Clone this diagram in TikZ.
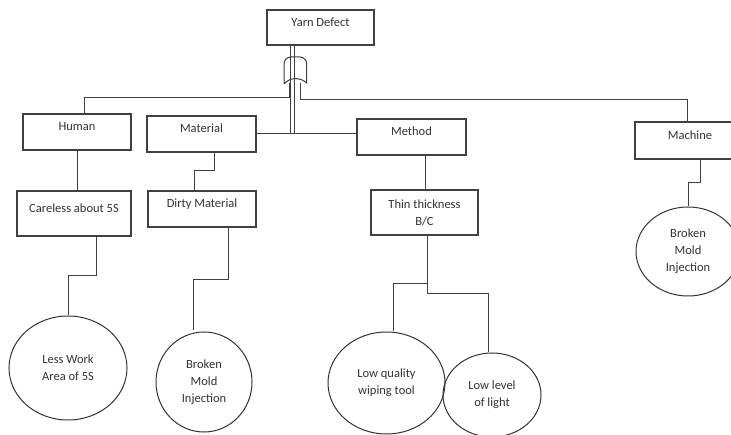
\documentclass[tikz,border=0pt]{standalone}
\usepackage{fontspec}
\setmainfont{Carlito}
\usetikzlibrary{shapes.geometric}
\tikzset{
  box/.style={draw=black!75,line width=1.1pt,rectangle,inner sep=0pt,
    text height=9pt,text depth=11pt,text=black!80},
  tallbox/.style={draw=black!75,line width=1.1pt,rectangle,inner sep=0pt,
    align=center,text=black!80},
  causeell/.style={draw=black!80,line width=1pt,ellipse,inner sep=0pt,
    align=center,text=black!80},
  wire/.style={draw=black!75,line width=1pt}
}
\begin{document}
\begin{tikzpicture}[x=1pt,y=-1pt,font=\fontsize{12.5}{17}\selectfont]
  \useasboundingbox[fill=white] (0,0) rectangle (731,435);
  % boxes
  \node[box,minimum width=107pt,minimum height=35pt] (yarn) at (320.5,27.5) {Yarn Defect};
  \node[box,minimum width=108pt,minimum height=36pt] (human) at (77,132) {Human};
  \node[box,minimum width=109pt,minimum height=36pt] (material) at (201.5,134) {Material};
  \node[box,minimum width=109pt,minimum height=36pt] (method) at (411.5,137) {Method};
  \node[box,minimum width=110pt,minimum height=37pt] (machine) at (690,140.5) {Machine};
  \node[box,minimum width=114pt,minimum height=45pt] (careless) at (74,213.5) {Careless about 5S};
  \node[box,minimum width=108pt,minimum height=36pt] (dirty) at (202,209) {Dirty Material};
  \node[tallbox,minimum width=107pt,minimum height=45pt] (thin) at (424.5,212.5) {Thin thickness\\B/C};
  % ellipses
  \node[causeell,minimum width=118pt,minimum height=104pt] (less) at (68,368) {Less Work\\Area of 5S};
  \node[causeell,minimum width=96pt,minimum height=100pt] (broken) at (204,382) {Broken\\Mold\\Injection};
  \node[causeell,minimum width=117pt,minimum height=102pt] (lowq) at (386.5,383) {Low quality\\wiping tool};
  \node[causeell,minimum width=98pt,minimum height=84pt] (lowl) at (492,395) {Low level\\of light};
  \node[causeell,minimum width=104pt,minimum height=89pt] (mould) at (688,251.5) {Broken\\Mold\\Injection};
  % crossover
  \coordinate (jl) at (289,83);
  \coordinate (jr) at (300,83);
  \draw[wire] (284,84) -- (284,64) to[out=90,in=180] (291,57) -- (300,57)
    to[out=0,in=90] (306.7,64) -- (306.7,83) .. controls (300,77) and (290,77) .. (284,84);
  \draw[wire] ([xshift=-30pt]yarn.south) -- ([xshift=-30pt]yarn.south |- material.east);
  \draw[wire] ([xshift=-26.2pt]yarn.south) -- ([xshift=-26.2pt]yarn.south |- material.east);
  \draw[wire] (material.east) -- (method.west |- material.east);
  \draw[wire] (jl) -- ++(0,15) -| ([xshift=7pt]human.north);
  \draw[wire] (jr) -- ++(0,17) -| ([xshift=-3pt]machine.north);
  % branches
  \draw[wire] (human.south) -- (human.south |- careless.north);
  \draw[wire] ([xshift=22pt]careless.south) -- ++(0,39) -| (less.north);
  \draw[wire] ([xshift=12.5pt]material.south) -- ++(0,18) -| ([xshift=-8pt]dirty.north);
  \draw[wire] ([xshift=26pt]dirty.south) -- ++(0,52) -| ([xshift=-11pt,yshift=1pt]broken.north);
  \draw[wire] ([xshift=14pt]method.south) -- ([xshift=14pt]method.south |- thin.north);
  \draw[wire] ([xshift=2.5pt]thin.south) -- ++(0,48) -| ([xshift=6.5pt]lowq.north);
  \draw[wire] ([xshift=2.5pt]thin.south) -- ++(0,58) -| ([xshift=-4pt]lowl.north);
  \draw[wire] ([xshift=10pt]machine.south) -- ++(0,23) -| (mould.north);
\end{tikzpicture}
\end{document}
